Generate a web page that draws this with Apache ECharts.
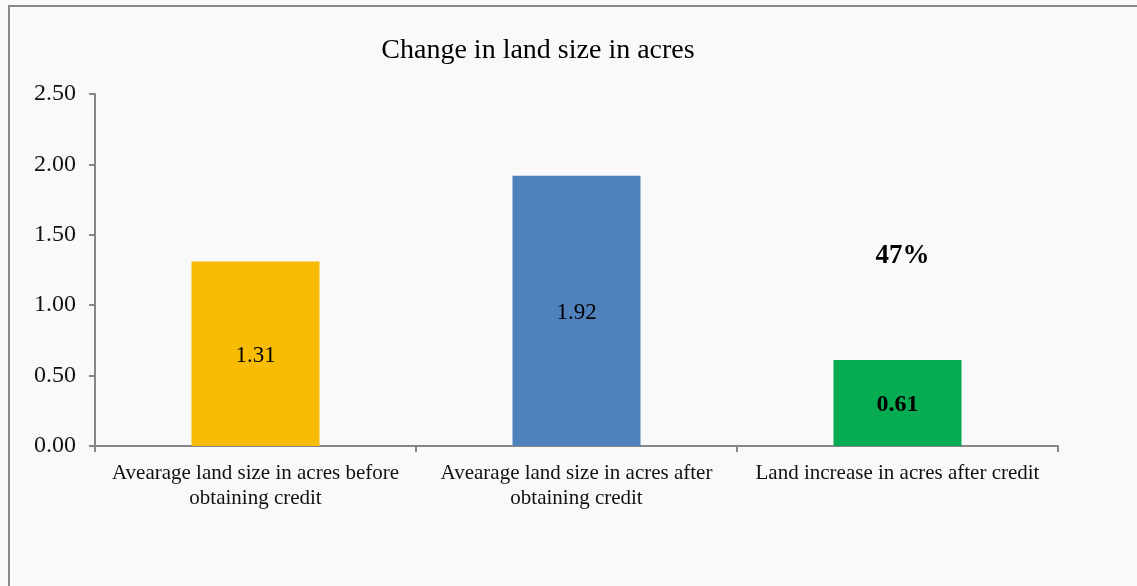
<!DOCTYPE html>
<html>
<head>
<meta charset="utf-8">
<script src="https://cdn.jsdelivr.net/npm/echarts@6/dist/echarts.min.js"></script>
<style>
  html, body { margin: 0; padding: 0; background: #f9f9f9; }
  #chart { width: 1137px; height: 586px; }
</style>
</head>
<body>
<div id="chart"></div>
<script>
// Land size data (acres)
const categories = [
  'Avearage land size in acres before\nobtaining credit',
  'Avearage land size in acres after\nobtaining credit',
  'Land increase in acres after credit'
];
const values = [1.31, 1.92, 0.61];
const barColors = ['#F8BC05', '#4F81BD', '#06AB52'];
const boldLabel = [false, false, true];
// Percentage increase note above the third bar
const increaseNote = { category: 2, value: 1.36, text: '47%' };

const serif = '"Liberation Serif", "Times New Roman", serif';

const chart = echarts.init(document.getElementById('chart'), null, { renderer: 'canvas' });

chart.setOption({
  backgroundColor: '#f9f9f9',
  animation: false,
  title: {
    text: 'Change in land size in acres',
    left: 533,
    textAlign: 'center',
    top: 32,
    textStyle: { fontFamily: serif, fontSize: 28, fontWeight: 'normal', color: '#000' }
  },
  graphic: [{
    type: 'rect',
    shape: { x: 9, y: 6, width: 1140, height: 600 },
    style: { fill: 'none', stroke: '#8a8a8a', lineWidth: 2 },
    silent: true
  }],
  grid: { left: 95, right: 79, top: 94, bottom: 140, containLabel: false },
  xAxis: {
    type: 'category',
    data: categories,
    axisLine: { lineStyle: { color: '#868686', width: 2 } },
    axisTick: { show: true, length: 6, alignWithLabel: false, lineStyle: { color: '#868686', width: 2 } },
    axisLabel: { fontFamily: serif, fontSize: 21, color: '#111', margin: 15, lineHeight: 25, interval: 0 }
  },
  yAxis: {
    type: 'value',
    min: 0,
    max: 2.5,
    interval: 0.5,
    axisLine: { show: true, lineStyle: { color: '#868686', width: 2 } },
    axisTick: { show: true, length: 6, lineStyle: { color: '#868686', width: 2 } },
    splitLine: { show: false },
    axisLabel: {
      fontFamily: serif, fontSize: 24, color: '#111', margin: 19,
      padding: [3, 0, 0, 0],
      formatter: v => v.toFixed(2)
    }
  },
  series: [{
    type: 'bar',
    barWidth: 128,
    data: values.map((v, i) => ({
      value: v,
      itemStyle: { color: barColors[i] },
      label: {
        show: true,
        position: 'inside',
        offset: [0, 2],
        fontFamily: serif,
        fontSize: boldLabel[i] ? 24 : 23,
        fontWeight: boldLabel[i] ? 'bold' : 'normal',
        color: '#000',
        formatter: p => p.value.toFixed(2)
      }
    })),
    markPoint: {
      symbol: 'circle',
      symbolSize: 1,
      itemStyle: { color: 'rgba(0,0,0,0)' },
      silent: true,
      data: [{
        coord: [increaseNote.category, increaseNote.value],
        label: {
          show: true,
          position: 'inside',
          offset: [5, 2],
          formatter: increaseNote.text,
          fontFamily: serif, fontSize: 27, fontWeight: 'bold', color: '#000'
        }
      }]
    }
  }]
});
</script>
</body>
</html>
